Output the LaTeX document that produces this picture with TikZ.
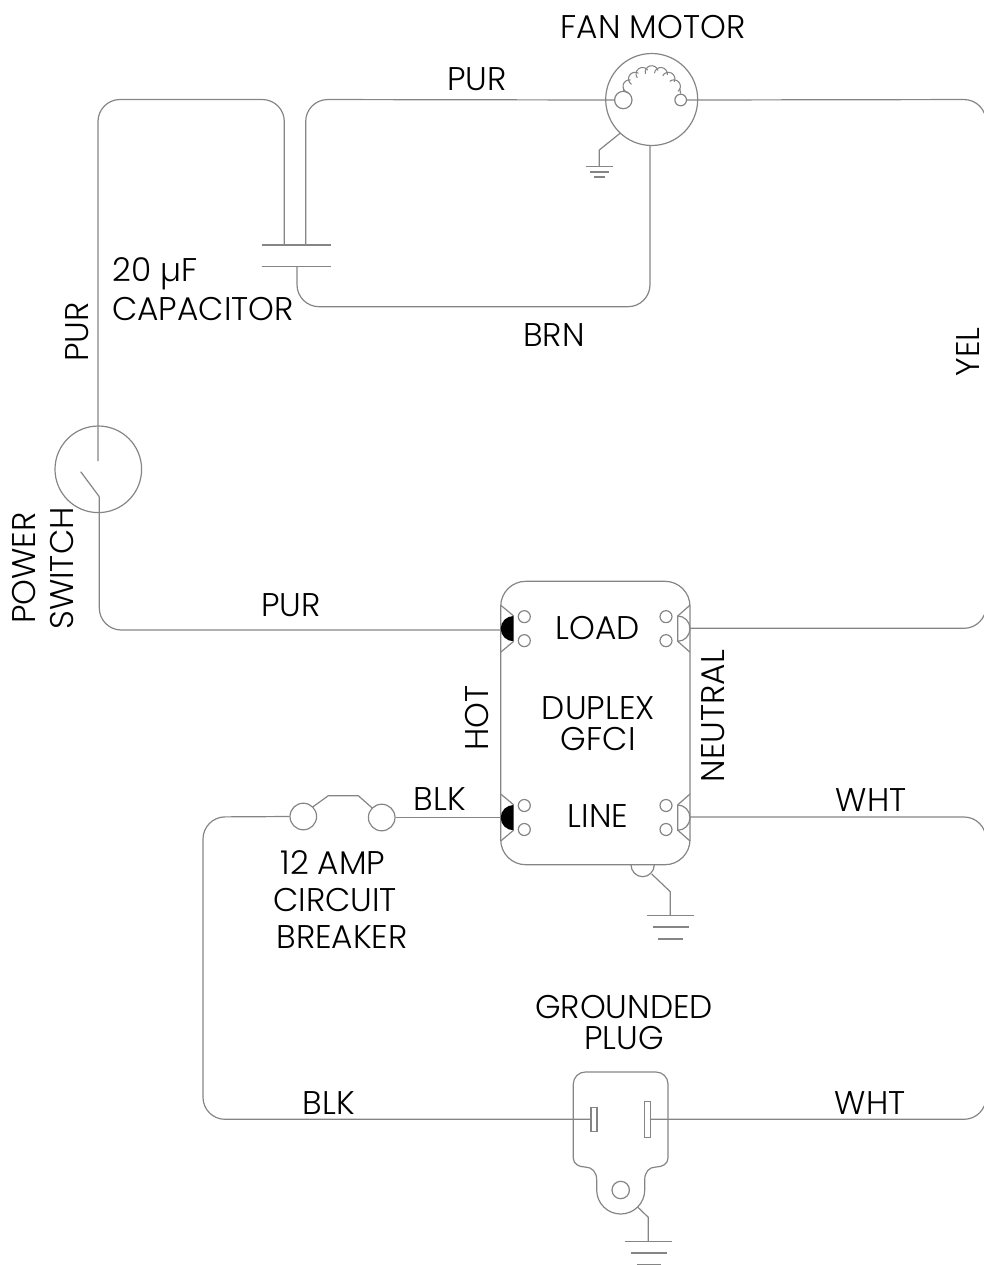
\documentclass[tikz,border=0pt]{standalone}
\usepackage{fontspec}
\usetikzlibrary{calc}
\setmainfont{Poppins}[UprightFont=* Light]
\definecolor{wirec}{HTML}{858585}
\tikzset{
  wire/.style={draw=wirec,line width=0.9pt,line join=round},
  wirebend/.style={wire,rounded corners=16.5pt},
  ring/.style={circle,draw=wirec,line width=0.9pt,fill=white,inner sep=0pt,minimum size=#1*1.5pt},
  lab/.style={inner sep=0pt,font=\fontsize{24.6}{26}\selectfont,text=black,align=center},
  labr/.style={lab,rotate=90}
}
\begin{document}
\begin{tikzpicture}[x=0.75pt,y=-0.75pt]
\useasboundingbox (0,0) rectangle (983,1265);
% named junctions
\coordinate (capTopL) at (284.3,245);
\coordinate (capTopR) at (305.7,245);
\coordinate (capBot) at (297,266.3);
\coordinate (swTop) at (98,461);
\coordinate (swBlade) at (99.3,496.7);
\coordinate (swTip) at (80.7,471.7);
\coordinate (gl1) at (500.7,630);
\coordinate (gl2) at (500.7,817.5);
\coordinate (gr1) at (690,628.3);
\coordinate (gr2) at (690,817);
% plate lines of capacitor
\draw[wire] (261.7,245) -- (331,245);
\draw[wire] (261.7,266.3) -- (331,266.3);
% switch
\node[ring=43.3,fill=none] (sw) at (98.3,469.3) {};
% motor
\node[ring=46,fill=none] (motor) at (651.7,99.5) {};
\node[ring=8.7] (mL) at (623.3,100) {};
\node[ring=5.8] (mR) at (680.7,100) {};
\coordinate (mBot) at (650,145.3);
\foreach \a in {155,133,112,90,68,47,25}{
  \draw[wire,line width=0.8pt] ($(651.7,96.7)+({-\a}:24.5)+({-\a+75}:6.5)$) arc[start angle={-\a+75},end angle={-\a-105},radius=6.5];
}
\draw[wire] (mL.north) -- ++(0,-4);
\draw[wire] (mR.north) -- ++(-1,-5);
% wires
\draw[wirebend] (swTop) -- (98,99.5) -- (284.3,99.5) -- (capTopL);
\draw[wirebend] (capTopR) -- (305.7,99.5) -- (mL.west);
\draw[wirebend] (capBot) -- (297,306.7) -- (650,306.7) -- (mBot);
\draw[wirebend] (mR.east) -- (986,99.5) -- (986,628.3) -- (gr1);
\draw[wirebend] (gr2) -- (986,817) -- (986,1119.3) -- (650.3,1119.3);
\draw[wire] (swTip) -- (swBlade);
\draw[wirebend] (swBlade) -- (99.3,630) -- (gl1);
% GFCI box
\node[wire,rounded corners=18.75pt,minimum width=189.3*.75pt,minimum height=283.4*.75pt,inner sep=0pt] (gfci) at (595.35,723) {};
% terminals
\foreach \t/\c in {616/628.65,805/817.5}{
  \fill[black] (513.7,\t) arc[start angle=-90,end angle=-270,x radius=13,y radius=12.65] -- cycle;
  \draw[wire] (677.7,\t) arc[start angle=-90,end angle=90,x radius=12.3,y radius=12.65] -- cycle;
  \draw[wire] (500.7,{\c-23.5}) -- (513.7,{\c-12.65});
  \draw[wire] (500.7,{\c+23.5}) -- (513.7,{\c+12.65});
  \draw[wire] (690,{\c-23.5}) -- (677.7,{\c-12.65});
  \draw[wire] (690,{\c+23.5}) -- (677.7,{\c+12.65});
  \draw[wire] (524.3,{\c-12}) circle[radius=6];
  \draw[wire] (524.3,{\c+12}) circle[radius=6];
  \draw[wire] (666,{\c-12}) circle[radius=6];
  \draw[wire] (666,{\c+12}) circle[radius=6];
}
% breaker
\node[ring=13.3] (cb1) at (303.3,816.5) {};
\node[ring=13.3] (cb2) at (381.7,817.5) {};
\draw[wire] (cb1.45) -- (328.3,795.7) -- (358.3,795.7) -- (cb2.135);
\draw[wire] (cb2.east) -- (gl2);
% plug
\draw[wire] (573.3,1158) -- (573.3,1084) arc[start angle=180,end angle=270,radius=12] -- (656,1072) arc[start angle=270,end angle=360,radius=12] -- (668,1158)
  .. controls (668,1164) and (662,1167) .. (656,1167) .. controls (649,1167) and (644.7,1172) .. (644.7,1180) -- (644.7,1190)
  arc[start angle=0,end angle=180,radius=24] -- (596.7,1180)
  .. controls (596.7,1172) and (592,1167) .. (585,1167) .. controls (579,1167) and (573.3,1164) .. (573.3,1158) -- cycle;
\node[ring=8.7] (hole) at (620.7,1190) {};
\node[draw=wirec,line width=0.9pt,fill=white,inner sep=0pt,minimum width=6*.75pt,minimum height=24*.75pt] (bladeL) at (594,1119.3) {};
\node[draw=wirec,line width=0.9pt,fill=white,inner sep=0pt,minimum width=6*.75pt,minimum height=36*.75pt] (bladeR) at (647.3,1119.3) {};
\draw[wirebend] (cb1.west) -- (203,817) -- (203,1119.3) -- (bladeL.west);
% grounds
\draw[wire] (620,133.3) -- (599.3,150) -- (599.3,166.7);
\draw[wire] (586,166.7) -- (613,166.7) (590,172) -- (609,172) (594,177) -- (605,177);
\draw[wire] (631,864.7) arc[start angle=180,end angle=0,x radius=11.65,y radius=12];
\draw[wire] (651.7,874) -- (670.3,891.7) -- (670.3,915.7);
\draw[wire] (646.7,915.7) -- (694.3,915.7) (652.7,927) -- (688.7,927) (658.3,939) -- (682.7,939);
\draw[wire] (637.3,1206.7) -- (648.3,1217.3) -- (648.3,1241.3);
\draw[wire] (624.7,1241.3) -- (672.3,1241.3) (630.7,1253) -- (666.7,1253) (636.7,1264.3) -- (660.7,1264.3);
% labels
\node[lab] (t1) at (653,27) {FAN MOTOR};
\node[lab] (t2) at (477,79) {PUR};
\node[lab,anchor=west] (t3) at (112,274) {20 µF};
\node[lab,anchor=west] (t4) at (112,309) {CAPACITOR};
\node[lab] (t5) at (554,335) {BRN};
\node[labr] (t6) at (968,352) {YEL};
\node[labr] (t7) at (77,332) {PUR};
\node[labr] (t8) at (24,568) {POWER};
\node[labr] (t9) at (62.5,568.5) {SWITCH};
\node[lab] (t10) at (291,605) {PUR};
\node[lab] (t11) at (598,628) {LOAD};
\node[lab] (t12) at (598.3,708) {DUPLEX};
\node[lab] (t13) at (598.3,739) {GFCI};
\node[labr] (t14) at (477.5,718) {HOT};
\node[labr] (t15) at (712.7,716) {NEUTRAL};
\node[lab] (t16) at (440,799) {BLK};
\node[lab] (t17) at (598,816) {LINE};
\node[lab] (t18) at (871,800) {WHT};
\node[lab] (t19) at (333,863) {12 AMP};
\node[lab] (t20) at (335,900) {CIRCUIT};
\node[lab] (t21) at (342,937) {BREAKER};
\node[lab] (t22) at (624,1007) {GROUNDED};
\node[lab] (t23) at (624,1038) {PLUG};
\node[lab] (t24) at (329,1103) {BLK};
\node[lab] (t25) at (870,1103) {WHT};
\end{tikzpicture}
\end{document}
